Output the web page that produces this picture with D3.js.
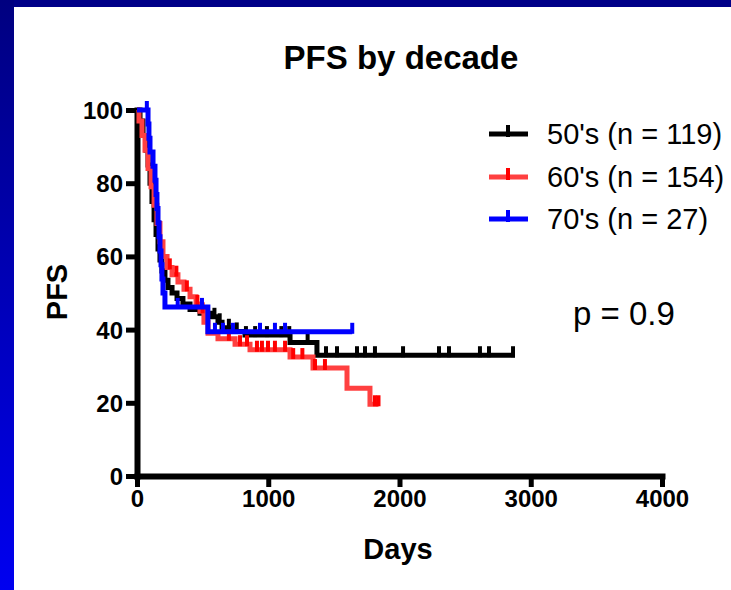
<!DOCTYPE html>
<html>
<head>
<meta charset="utf-8">
<script src="https://cdn.jsdelivr.net/npm/d3@7"></script>
<style>
  body { margin: 0; padding: 0; background: #fff; }
  text { font-family: "Liberation Sans", Arial, sans-serif; }
</style>
</head>
<body>
<div id="chart"></div>
<script>
////////////////////////////////////////////////////////////////////////
// PFS by decade -- Kaplan-Meier style step curves
////////////////////////////////////////////////////////////////////////

// x / y ticks
var xTicks = [0, 1000, 2000, 3000, 4000];
var yTicks = [0, 20, 40, 60, 80, 100];

// 50's (n = 119)
var days50 = [0, 23, 46, 69, 84, 99, 114, 130, 145, 160, 175, 190, 213, 236, 267, 305, 350, 404, 480, 571, 617, 648, 724, 823, 1166, 1371, 2880];
var surv50 = [100, 97, 93, 89, 85, 80, 75, 70, 66, 62, 59, 56, 53.5, 51.5, 50, 48.5, 47, 45.5, 44.5, 43.5, 42, 40.5, 39.5, 38.5, 36.5, 33, 33];
var cens50 = [590, 630, 700, 760, 830, 900, 990, 1100, 1160, 1300, 1440, 1524, 1676, 1737, 1813, 2027, 2301, 2377, 2613, 2682, 2865];

// 60's (n = 154)
var days60 = [0, 15, 38, 61, 84, 107, 130, 152, 175, 198, 229, 267, 312, 358, 404, 450, 480, 510, 541, 617, 747, 861, 1166, 1341, 1600, 1775, 1840];
var surv60 = [100, 97, 93, 89, 84, 79, 74, 69, 64, 60, 57, 55, 53, 51, 49, 47, 45, 42, 39, 37.5, 36, 34.5, 32.5, 29.5, 24, 19.6, 19.6];
var cens60 = [250, 300, 380, 460, 500, 700, 785, 838, 914, 952, 998, 1051, 1128, 1190, 1260, 1356, 1432, 1813, 1840];

// 70's (n = 27)
var days70 = [0, 84, 91, 99, 122, 137, 145, 152, 160, 168, 175, 183, 190, 198, 213, 540, 1640];
var surv70 = [100, 96.2, 92.3, 88.5, 84.6, 80.8, 76.9, 73.1, 69.2, 65.4, 61.5, 57.7, 53.8, 50, 46.2, 39.4, 39.4];
var cens70 = [75, 310, 495, 594, 655, 731, 937, 1051, 1128, 1640];

var seriesNames = ["50's (n = 119)", "60's (n = 154)", "70's (n = 27)"];
var lineColors = ["#000000", "#ff4040", "#0000ff"];
var tickColors = ["#000000", "#ff0000", "#0000ff"];

function init()
  {
  var width = 731, height = 590;

  var svg = d3.select("#chart").append("svg")
    .attr("width", width)
    .attr("height", height);

  // blue frame: top band + left gradient band
  var defs = svg.append("defs");
  var grad = defs.append("linearGradient")
    .attr("id", "leftGrad")
    .attr("x1", 0).attr("y1", 0).attr("x2", 0).attr("y2", 1);
  grad.append("stop").attr("offset", "0%").attr("stop-color", "#000080");
  grad.append("stop").attr("offset", "100%").attr("stop-color", "#0000f0");

  svg.append("rect").attr("x", 0).attr("y", 0).attr("width", width).attr("height", height).attr("fill", "#fff");
  svg.append("rect").attr("x", 0).attr("y", 0).attr("width", width).attr("height", 7).attr("fill", "#000088");
  svg.append("rect").attr("x", 0).attr("y", 0).attr("width", 14).attr("height", height).attr("fill", "url(#leftGrad)");

  var x = d3.scaleLinear().domain([0, 4000]).range([137, 662]);
  var y = d3.scaleLinear().domain([0, 100]).range([476, 110]);

  // title
  svg.append("text")
    .attr("x", 401).attr("y", 69)
    .attr("text-anchor", "middle")
    .style("font-size", "33px").style("font-weight", "bold")
    .text("PFS by decade");

  // axes
  var yAxis = svg.append("g")
    .attr("transform", "translate(137,0)")
    .call(d3.axisLeft(y).tickValues(yTicks).tickSize(11).tickSizeOuter(0).tickPadding(3));

  var xAxis = svg.append("g")
    .attr("transform", "translate(0,476)")
    .call(d3.axisBottom(x).tickValues(xTicks).tickFormat(d3.format("d")).tickSize(11).tickSizeOuter(0).tickPadding(3));

  [xAxis, yAxis].forEach(function(ax)
    {
    ax.select(".domain")
      .style("stroke", "#000").style("stroke-width", "6px").style("stroke-linecap", "square");
    ax.selectAll(".tick line")
      .style("stroke", "#000").style("stroke-width", "5px");
    ax.selectAll(".tick text")
      .attr("fill", "#000")
      .style("font-size", "24px").style("font-weight", "bold")
      .style("font-family", "'Liberation Sans', Arial, sans-serif");
    });

  yAxis.selectAll(".tick text").attr("dy", "0.35em");

  // axis titles
  svg.append("text")
    .attr("x", 398).attr("y", 559)
    .attr("text-anchor", "middle")
    .style("font-size", "29px").style("font-weight", "bold")
    .text("Days");

  svg.append("text")
    .attr("transform", "translate(67,292) rotate(-90)")
    .attr("text-anchor", "middle")
    .style("font-size", "29px").style("font-weight", "bold")
    .text("PFS");

  // curves
  var allDays = [days50, days60, days70];
  var allSurv = [surv50, surv60, surv70];
  var allCens = [cens50, cens60, cens70];

  var line = d3.line()
    .x(function(d) { return x(d[0]); })
    .y(function(d) { return y(d[1]); })
    .curve(d3.curveStepAfter);

  // draw order: black, red, blue (blue on top)
  [0, 1, 2].forEach(function(i)
    {
    var pts = allDays[i].map(function(d, k) { return [d, allSurv[i][k]]; });

    svg.append("path")
      .datum(pts)
      .attr("d", line)
      .attr("fill", "none")
      .attr("stroke", lineColors[i])
      .attr("stroke-width", 5);

    // censor ticks at current survival level
    var bis = d3.bisector(function(d) { return d[0]; }).right;
    svg.selectAll(null)
      .data(allCens[i])
      .enter()
      .append("line")
      .attr("x1", function(d) { return x(d); })
      .attr("x2", function(d) { return x(d); })
      .attr("y1", function(d) { return y(pts[Math.max(0, bis(pts, d) - 1)][1]) + 2; })
      .attr("y2", function(d) { return y(pts[Math.max(0, bis(pts, d) - 1)][1]) - 9; })
      .attr("stroke", tickColors[i])
      .attr("stroke-width", 4);
    });

  // legend
  var legendY = [134, 177, 219];
  seriesNames.forEach(function(name, i)
    {
    svg.append("line")
      .attr("x1", 489).attr("x2", 528)
      .attr("y1", legendY[i]).attr("y2", legendY[i])
      .attr("stroke", lineColors[i]).attr("stroke-width", 5);
    svg.append("line")
      .attr("x1", 508).attr("x2", 508)
      .attr("y1", legendY[i] + 3).attr("y2", legendY[i] - 9)
      .attr("stroke", tickColors[i]).attr("stroke-width", 4);
    svg.append("text")
      .attr("x", 547).attr("y", legendY[i] + 10)
      .style("font-size", "29px")
      .text(name);
    });

  // p value
  svg.append("text")
    .attr("x", 573).attr("y", 325)
    .style("font-size", "33px")
    .text("p = 0.9");

  return;
  }

init();
</script>
</body>
</html>
